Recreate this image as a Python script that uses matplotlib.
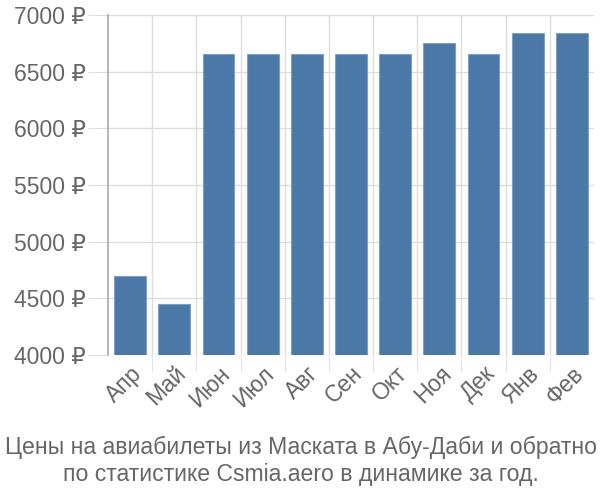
import matplotlib
matplotlib.use("Agg")
import matplotlib.pyplot as plt

plt.rcParams['font.family'] = ['Liberation Sans', 'DejaVu Sans']

months = ['Апр', 'Май', 'Июн', 'Июл', 'Авг', 'Сен', 'Окт', 'Ноя', 'Дек', 'Янв', 'Фев']
prices = [4700, 4450, 6660, 6660, 6660, 6660, 6660, 6755, 6660, 6845, 6845]
yticks = [4000, 4500, 5000, 5500, 6000, 6500, 7000]

fig = plt.figure(figsize=(6, 5), dpi=100)
ax = fig.add_axes([0.18, 0.29, 0.81, 0.68])

x = list(range(len(months)))
ax.bar(x, prices, width=0.72, color='#4c78a8', edgecolor='#7f9fc4', linewidth=0.8, zorder=3)

ax.set_xlim(-0.5, len(months) - 0.5)
ax.set_ylim(4000, 7000)

ax.set_yticks(yticks)
ax.set_yticklabels([f'{v} ₽' for v in yticks])
ax.set_xticks(x)
ax.set_xticklabels(months, rotation=45, ha='right', rotation_mode='anchor')
ax.set_xticks([i + 0.5 for i in x[:-1]], minor=True)

ax.grid(axis='y', color='#dddddd', linewidth=1, zorder=0)
ax.grid(axis='x', which='minor', color='#dddddd', linewidth=1, zorder=0)
ax.tick_params(axis='y', length=14.4, color='#dddddd', labelsize=16.5, labelcolor='#666666', pad=1.5)
ax.tick_params(axis='x', which='major', length=0, labelsize=16.5, labelcolor='#666666', pad=5)
ax.tick_params(axis='x', which='minor', length=12, color='#dddddd')

for s in ['top', 'right', 'bottom']:
    ax.spines[s].set_visible(False)
ax.spines['left'].set_color('#aaaaaa')
ax.spines['left'].set_linewidth(1.2)

fig.text(0.502, 0.078, 'Цены на авиабилеты из Маската в Абу-Даби и обратно\nпо статистике Csmia.aero в динамике за год.',
         ha='center', va='center', fontsize=16.6, color='#666666', linespacing=1.2)

fig.savefig('out.png', dpi=100)
